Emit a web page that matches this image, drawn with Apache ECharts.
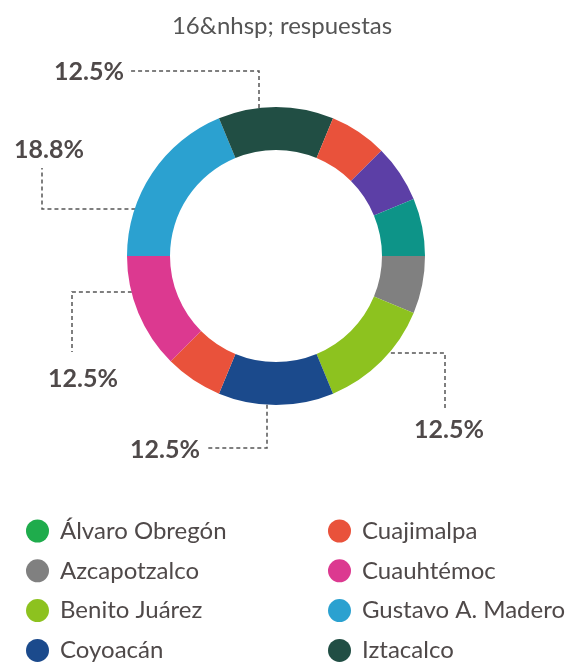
<!DOCTYPE html>
<html>
<head>
<meta charset="utf-8">
<script src="https://cdn.jsdelivr.net/npm/echarts@6/dist/echarts.min.js"></script>
<style>
  html, body { margin: 0; padding: 0; background: #fff; }
  #chart { width: 578px; height: 663px; }
</style>
</head>
<body>
<div id="chart"></div>
<script>
// respuestas por alcaldía (16 en total), orden alfabético
const alcaldias = ['Álvaro Obregón', 'Azcapotzalco', 'Benito Juárez', 'Coyoacán',
  'Cuajimalpa', 'Cuauhtémoc', 'Gustavo A. Madero', 'Iztacalco',
  'Iztapalapa', 'Magdalena Contreras', 'Miguel Hidalgo']
const respuestas = [0, 1, 2, 2, 1, 2, 3, 2, 1, 1, 1]
const colores = ['#1fac4c', '#808080', '#8dc21f', '#1b4a8c', '#e9523b', '#dc3990',
  '#2ba1d0', '#214e44', '#e9523b', '#5c3fa6', '#0d9488']
const leyendaIzq = ['Álvaro Obregón', 'Azcapotzalco', 'Benito Juárez', 'Coyoacán']
const leyendaDer = ['Cuajimalpa', 'Cuauhtémoc', 'Gustavo A. Madero', 'Iztacalco']
const subtitulo = '16&nhsp; respuestas'

const CX = 276, CY = 256
const R_IN = 106, R_OUT = 149, R_LINE = 135
const FONT = 'Lato, "Noto Sans", sans-serif'
const TXT = '#4f4949'

// llamadas con líneas punteadas (solo se posicionan las etiquetas)
const callouts = {
  'Iztacalco':         { leg: 'v', side: -1, at: 259, to: 71,  end: 128, x: 124, y: 72,  align: 'right' },
  'Coyoacán':          { leg: 'v', side: 1,  at: 267, to: 448, end: 208, x: 200, y: 450, align: 'right' },
  'Gustavo A. Madero': { leg: 'h', side: -1, at: 209, to: 42,  end: 168, x: 49,  y: 150, align: 'center' },
  'Cuauhtémoc':        { leg: 'h', side: -1, at: 292, to: 72,  end: 352, x: 83,  y: 379, align: 'center' },
  'Benito Juárez':     { leg: 'h', side: 1,  at: 353, to: 445, end: 410, x: 449, y: 430, align: 'center' }
}

const datos = alcaldias.map((n, i) => ({
  name: n,
  value: respuestas[i],
  itemStyle: { color: colores[i] },
  label: { show: !!callouts[n] },
  labelLine: { show: !!callouts[n] }
}))

function leyenda(items, left) {
  return {
    data: items,
    orient: 'vertical',
    left: left,
    top: 514,
    height: 300,
    icon: 'circle',
    itemWidth: 23,
    itemHeight: 23,
    itemGap: 15.8,
    selectedMode: false,
    textStyle: {
      fontFamily: FONT,
      fontSize: 24,
      color: TXT,
      lineHeight: 23,
      padding: [0, 0, 0, 6]
    }
  }
}

const chart = echarts.init(document.getElementById('chart'))
const option = {
  backgroundColor: '#fff',
  animation: false,
  title: {
    text: subtitulo,
    left: 277,
    top: 9,
    textAlign: 'center',
    textStyle: { fontFamily: FONT, fontSize: 24, fontWeight: 'normal', color: '#555' }
  },
  legend: [leyenda(leyendaIzq, 21), leyenda(leyendaDer, 323)],
  series: [{
    type: 'pie',
    center: [CX, CY],
    radius: [R_IN, R_OUT],
    startAngle: 0,
    clockwise: true,
    avoidLabelOverlap: false,
    emphasis: { disabled: true },
    data: datos,
    label: {
      position: 'outside',
      formatter: p => p.percent.toFixed(1) + '%',
      fontFamily: FONT,
      fontSize: 25,
      fontWeight: 'bold',
      color: TXT
    },
    labelLine: {
      show: true,
      lineStyle: { color: '#555', width: 1.5, type: [4, 3] }
    },
    labelLayout: function (p) {
      const c = callouts[alcaldias[p.dataIndex]]
      if (!c) return {}
      let pts
      if (c.leg === 'v') {
        const y0 = CY + c.side * Math.sqrt(R_LINE * R_LINE - (c.at - CX) * (c.at - CX))
        pts = [[c.at, y0], [c.at, c.to], [c.end, c.to]]
      } else {
        const x0 = CX + c.side * Math.sqrt(R_LINE * R_LINE - (c.at - CY) * (c.at - CY))
        pts = [[x0, c.at], [c.to, c.at], [c.to, c.end]]
      }
      return { x: c.x, y: c.y, align: c.align, verticalAlign: 'middle', labelLinePoints: pts }
    }
  }]
}
chart.setOption(option)
</script>
</body>
</html>
